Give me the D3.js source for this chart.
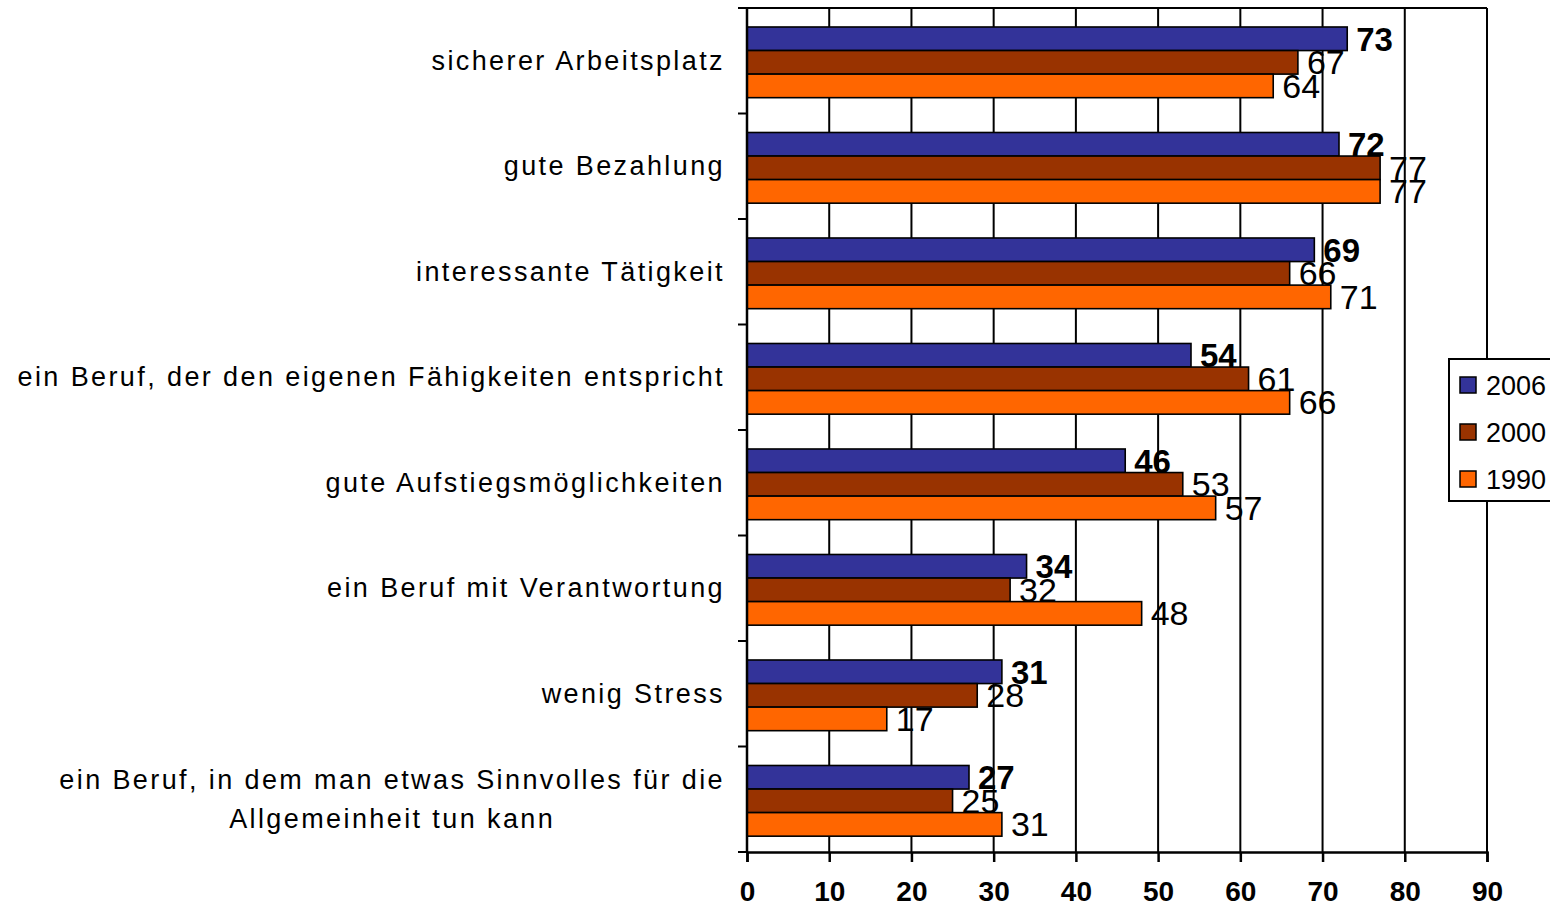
<!DOCTYPE html>
<html><head><meta charset="utf-8">
<script src="https://cdn.jsdelivr.net/npm/d3@7"></script>
<style>
html,body{margin:0;padding:0;background:#fff;}
svg{display:block;}
</style></head>
<body>
<svg id="chart" width="1550" height="909"></svg>
<script>
const categories = [
  ["sicherer Arbeitsplatz"],
  ["gute Bezahlung"],
  ["interessante Tätigkeit"],
  ["ein Beruf, der den eigenen Fähigkeiten entspricht"],
  ["gute Aufstiegsmöglichkeiten"],
  ["ein Beruf mit Verantwortung"],
  ["wenig Stress"],
  ["ein Beruf, in dem man etwas Sinnvolles für die", "Allgemeinheit tun kann"]
];
const seriesNames = ["2006", "2000", "1990"];
const values2006 = [73, 72, 69, 54, 46, 34, 31, 27];
const values2000 = [67, 77, 66, 61, 53, 32, 28, 25];
const values1990 = [64, 77, 71, 66, 57, 48, 17, 31];
const seriesColors = ["#333399", "#993300", "#FF6600"];
const xTicks = [0, 10, 20, 30, 40, 50, 60, 70, 80, 90];

(function() {
const seriesValues = [values2006, values2000, values1990];
const svg = d3.select("#chart");
const pl = 747, pr = 1487, pt = 8, pb = 852;

const x = d3.scaleLinear().domain([0, 90]).range([pl, pr]);
const y = d3.scaleBand().domain(d3.range(categories.length)).range([pt, pb]).padding(0);
const bw = y.bandwidth();
const ys = d3.scaleBand().domain(seriesNames).range([bw * 0.18, bw * 0.85]).padding(0);

// gridlines
svg.append("g").selectAll("line").data(xTicks.slice(1)).join("line")
  .attr("x1", d => x(d)).attr("x2", d => x(d))
  .attr("y1", pt).attr("y2", pb)
  .attr("stroke", "#000").attr("stroke-width", 2);
// top border
svg.append("line").attr("x1", pl).attr("x2", pr).attr("y1", pt).attr("y2", pt)
  .attr("stroke", "#000").attr("stroke-width", 2);

// bars
const groups = svg.append("g").selectAll("g").data(categories).join("g")
  .attr("transform", (d, i) => `translate(0,${y(i)})`);
seriesNames.forEach((s, si) => {
  groups.append("rect")
    .attr("x", x(0))
    .attr("y", ys(s))
    .attr("width", (d, i) => x(seriesValues[si][i]) - x(0))
    .attr("height", ys.bandwidth())
    .attr("fill", seriesColors[si])
    .attr("stroke", "#000").attr("stroke-width", 1.6);
});

// axes
const xAxis = svg.append("g").attr("transform", `translate(0,${pb})`)
  .call(d3.axisBottom(x).tickValues(xTicks).tickSize(10).tickPadding(19));
xAxis.select(".domain").attr("stroke", "#000").attr("stroke-width", 2.5);
xAxis.selectAll(".tick line").attr("stroke", "#000").attr("stroke-width", 2.5);
xAxis.selectAll(".tick text").attr("font-family", "Liberation Sans, Arial, sans-serif")
  .attr("font-size", 28).attr("font-weight", "bold").attr("fill", "#000");

// left axis with boundary ticks
svg.append("line").attr("x1", pl).attr("x2", pl).attr("y1", pt).attr("y2", pb)
  .attr("stroke", "#000").attr("stroke-width", 2.5);
svg.append("g").selectAll("line").data(d3.range(categories.length + 1)).join("line")
  .attr("x1", pl - 9).attr("x2", pl)
  .attr("y1", i => pt + i * bw).attr("y2", i => pt + i * bw)
  .attr("stroke", "#000").attr("stroke-width", 2);

// category labels (multi-line labels are centred on their widest line)
const lineH = 39, labelRight = 725;
svg.append("g").selectAll("g").data(categories).join("g")
  .each(function(lines, i) {
    const g = d3.select(this);
    const cy = y(i) + bw / 2;
    const texts = lines.map((ln, li) => g.append("text")
      .attr("font-family", "Liberation Sans, Arial, sans-serif")
      .attr("font-size", 27).attr("letter-spacing", 2.4).attr("fill", "#000")
      .attr("y", cy + (li - (lines.length - 1) / 2) * lineH + 9)
      .text(ln));
    if (lines.length === 1) {
      texts[0].attr("text-anchor", "end").attr("x", labelRight);
    } else {
      const maxW = d3.max(texts, t => t.node().getComputedTextLength());
      texts.forEach(t => t.attr("text-anchor", "middle").attr("x", labelRight - maxW / 2));
    }
  });

// value labels
seriesNames.forEach((s, si) => {
  svg.append("g").selectAll("text").data(seriesValues[si]).join("text")
    .attr("x", d => x(d) + 9)
    .attr("y", (d, i) => y(i) + ys(s) + ys.bandwidth() / 2 + 12)
    .attr("font-family", "Liberation Sans, Arial, sans-serif")
    .attr("font-size", si === 0 ? 33 : 34)
    .attr("font-weight", si === 0 ? "bold" : "normal")
    .attr("fill", "#000")
    .text(d => d);
});

// legend
const lg = svg.append("g");
lg.append("rect").attr("x", 1449).attr("y", 359).attr("width", 130).attr("height", 142)
  .attr("fill", "#fff").attr("stroke", "#000").attr("stroke-width", 2);
const ly = d3.scalePoint().domain(seriesNames).range([385, 479]);
seriesNames.forEach((s, si) => {
  lg.append("rect").attr("x", 1460).attr("y", ly(s) - 8).attr("width", 16).attr("height", 16)
    .attr("fill", seriesColors[si]).attr("stroke", "#000").attr("stroke-width", 1.5);
  lg.append("text").attr("x", 1486).attr("y", ly(s) + 10)
    .attr("font-family", "Liberation Sans, Arial, sans-serif").attr("font-size", 27)
    .attr("fill", "#000").text(s);
});
})();
</script>
</body></html>
